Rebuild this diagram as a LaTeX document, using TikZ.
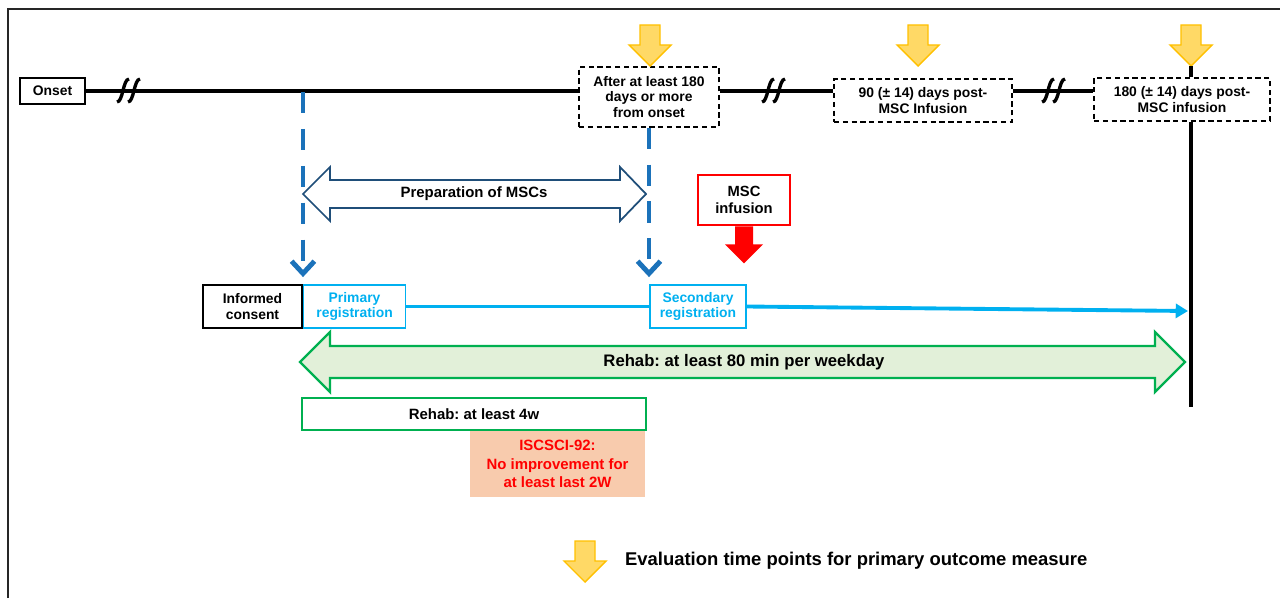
\documentclass[tikz,border=0pt]{standalone}
\usepackage{fontspec}
\setmainfont{Liberation Sans}
\usepackage{tikz}
\usetikzlibrary{positioning,arrows.meta,calc}
\definecolor{evalfill}{HTML}{FFD966}
\definecolor{evaledge}{HTML}{FFC000}
\definecolor{prepblue}{HTML}{1B72BA}
\definecolor{prepnavy}{HTML}{1F4E79}
\definecolor{regcyan}{HTML}{00B0F0}
\definecolor{rehabgreen}{HTML}{00B050}
\definecolor{rehabfill}{HTML}{E2F0D9}
\definecolor{iscfill}{HTML}{F8CBAD}
\frenchspacing

\begin{document}
\begin{tikzpicture}[x=0.02cm,y=-0.02cm,
  every node/.style={font=\bfseries\fontsize{7.9}{8.8}\selectfont,align=center,inner sep=1pt},
  plainbox/.style={draw,line width=0.8pt},
  evalbox/.style={draw,line width=0.8pt,dash pattern=on 3pt off 2pt},
  regbox/.style={draw=regcyan,text=regcyan,line width=1pt},
  timeline/.style={line width=2.7pt},
  breakmark/.style={line width=1.9pt},
  prepdash/.style={draw=prepblue,line width=2.8pt,dash pattern=on 12pt off 9pt,shorten >=4pt,-{Straight Barb[length=7pt,width=13pt]}},
  regline/.style={draw=regcyan,line width=2.2pt},
  pics/evalarrow/.style={code={
    \path[fill=evalfill,draw=evaledge,line width=0.8pt] (-10,0) -- (10,0) -- (10,20) -- (21,20) -- (0,41) -- (-21,20) -- (-10,20) -- cycle;}}
]
  \useasboundingbox (0,0) rectangle (1280,598);
  \draw[black!85,line width=1.2pt] (8,598) -- (8,9) -- (1280,9);

  \node[plainbox,minimum width=1.3cm,minimum height=0.52cm] (onset) at (52.5,91) {Onset};
  \node[evalbox,minimum width=2.8cm,minimum height=1.2cm] (after) at (649,97) {After at least 180\\days or more\\from onset};
  \node[evalbox,minimum width=3.56cm,minimum height=0.86cm] (ninety) at (923,100.5) {90 (± 14) days post-\\MSC Infusion};
  \node[evalbox,minimum width=3.52cm,minimum height=0.86cm] (late) at (1182,99.5) {180 (± 14) days post-\\MSC infusion};

  \draw[timeline] (onset.east) -- (onset.east -| after.west);
  \draw[timeline] (after.east |- onset.east) -- (ninety.west |- onset.east);
  \draw[timeline] (ninety.east |- onset.east) -- (late.west |- onset.east);
  \foreach \bx in {130,775,1055}
    \foreach \dx in {0,11}
      \draw[breakmark] (\bx-13+\dx,102) .. controls (\bx-7+\dx,102) and (\bx-7+\dx,79) .. (\bx-1+\dx,79);

  \pic at (650,25) {evalarrow};
  \pic at (918,25) {evalarrow};
  \pic at (1191,25) {evalarrow};

  \coordinate (tip3) at (1191,66);
  \coordinate (rehabend) at (1191,407);
  \draw[timeline] (tip3) -- (tip3 |- late.north);
  \draw[timeline] (tip3 |- late.south) -- (rehabend);

  \node[plainbox,minimum width=1.98cm,minimum height=0.86cm] (consent) at (252.5,306.5) {Informed\\consent};
  \node[regbox,minimum width=2.04cm,minimum height=0.86cm,right=0pt of consent] (primary) {Primary\\registration};
  \node[regbox,minimum width=1.92cm,minimum height=0.86cm] (secondary) at (698,306.5) {Secondary\\registration};

  \draw[draw=prepnavy,fill=white,line width=1pt] (303,194) -- (330,167) -- (330,180) -- (620,180) -- (620,167) -- (646,194) -- (620,221) -- (620,208) -- (330,208) -- (330,221) -- cycle;
  \node[font=\bfseries\fontsize{8.5}{10}\selectfont] (prep) at (474,194) {Preparation of MSCs};

  \coordinate (consentmark) at (303,92);
  \draw[prepdash] (consentmark) -- (consentmark |- primary.north);
  \draw[prepdash] (after.south) -- (after.south |- secondary.north);

  \node[draw=red,line width=1.6pt,fill=white,minimum width=1.84cm,minimum height=1cm,font=\bfseries\fontsize{8.4}{9.6}\selectfont] (msc) at (744,200) {MSC\\infusion};
  \fill[red] (msc.south) ++(-9,0) -- ++(18,0) -- ++(0,18) -- ++(10,0) -- ++(-19,19) -- ++(-19,-19) -- ++(10,0) -- cycle;

  \coordinate (regend) at (1188,311);
  \draw[regline] (primary.east) -- (secondary.west);
  \draw[regline,-{Triangle[length=7pt,width=8pt]}] (secondary.east) -- (regend);

  \draw[draw=rehabgreen,fill=rehabfill,line width=1.3pt] (300,362) -- (330,332) -- (330,346) -- (1155,346) -- (1155,332) -- (1185,362) -- (1155,392) -- (1155,378) -- (330,378) -- (330,392) -- cycle;
  \node[font=\bfseries\fontsize{9.5}{11}\selectfont] (rehab) at (744,362) {Rehab: at least 80 min per weekday};

  \node[draw=rehabgreen,line width=1.2pt,minimum width=6.88cm,minimum height=0.64cm,font=\bfseries\fontsize{8.5}{10}\selectfont] (fourweeks) at (474,414) {Rehab: at least 4w};
  \node[fill=iscfill,text=red,minimum width=3.5cm,minimum height=1.32cm,font=\bfseries\fontsize{8.5}{10.5}\selectfont] (iscsci) at (557.5,464) {ISCSCI-92:\\No improvement for\\at least last 2W};

  \pic at (585,541) {evalarrow};
  \node[anchor=west,font=\bfseries\fontsize{10.5}{12}\selectfont] (legend) at (623,561) {Evaluation time points for primary outcome measure};
\end{tikzpicture}
\end{document}
